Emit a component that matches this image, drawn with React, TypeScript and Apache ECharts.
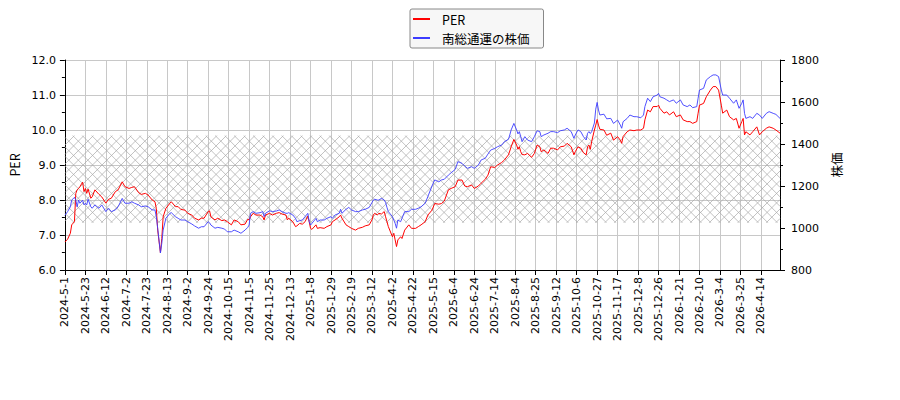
import { useEffect, useRef } from "react";
import * as echarts from "echarts";

// x axis is counted in trading days from 2024-5-1; a label every 15 days
const tickLabels = [
  "2024-5-1", "2024-5-23", "2024-6-12", "2024-7-2", "2024-7-23", "2024-8-13", "2024-9-2",
  "2024-9-24", "2024-10-15", "2024-11-5", "2024-11-25", "2024-12-13", "2025-1-8", "2025-1-29",
  "2025-2-19", "2025-3-12", "2025-4-2", "2025-4-22", "2025-5-15", "2025-6-4", "2025-6-24",
  "2025-7-14", "2025-8-4", "2025-8-25", "2025-9-12", "2025-10-6", "2025-10-27", "2025-11-17",
  "2025-12-8", "2025-12-26", "2026-1-21", "2026-2-10", "2026-3-4", "2026-3-25", "2026-4-14"
];

const dayIndex = [
  0, 2, 4, 5, 7, 8, 9, 10, 11, 13,
  14, 15, 16, 17, 19, 20, 22, 25, 27, 30,
  32, 34, 37, 39, 42, 44, 47, 49, 51, 54,
  56, 59, 61, 64, 66, 67, 68, 70, 71, 72,
  74, 77, 78, 81, 83, 85, 88, 90, 93, 95,
  98, 100, 102, 105, 106, 107, 110, 112, 115, 117,
  119, 122, 124, 127, 129, 132, 134, 135, 136, 138,
  140, 143, 145, 146, 147, 150, 152, 155, 157, 159,
  162, 163, 164, 167, 169, 170, 172, 174, 176, 178,
  179, 180, 181, 184, 185, 187, 190, 192, 195, 196,
  198, 201, 202, 203, 206, 208, 210, 213, 215, 218,
  220, 223, 225, 226, 227, 229, 230, 232, 234, 235,
  236, 237, 240, 241, 242, 243, 244, 246, 247, 249,
  252, 254, 257, 259, 261, 264, 266, 269, 271, 274,
  276, 278, 281, 283, 286, 288, 291, 293, 295, 298,
  300, 303, 305, 308, 310, 312, 315, 317, 320, 322,
  325, 326, 327, 329, 331, 332, 333, 334, 335, 337,
  339, 342, 344, 346, 348, 349, 351, 354, 356, 358,
  361, 363, 366, 368, 371, 373, 374, 376, 378, 380,
  382, 383, 384, 385, 386, 388, 389, 390, 391, 392,
  395, 397, 400, 402, 405, 407, 408, 409, 412, 414,
  417, 419, 422, 424, 425, 427, 429, 431, 434, 435,
  436, 439, 441, 443, 446, 448, 451, 453, 456, 458,
  460, 463, 464, 465, 468, 470, 473, 475, 477, 479,
  481, 482, 485, 487, 490, 492, 494, 496, 497, 498,
  499, 502, 504, 507, 509, 511, 514, 516, 519, 521,
  524
];

const perValues = [
  6.8, 6.88, 7.05, 7.29, 7.38, 8.19, 8.29, 8.33, 8.38, 8.51,
  8.24, 8.33, 8.19, 8.31, 8.05, 8.09, 8.29, 8.16, 8.09, 7.91,
  8.02, 8.05, 8.24, 8.29, 8.52, 8.38, 8.33, 8.36, 8.38, 8.21,
  8.16, 8.19, 8.14, 8.0, 7.95, 7.76, 7.14, 6.49, 6.9, 7.52,
  7.76, 7.91, 7.95, 7.81, 7.81, 7.73, 7.71, 7.62, 7.57, 7.48,
  7.43, 7.48, 7.48, 7.67, 7.69, 7.52, 7.43, 7.48, 7.41, 7.43,
  7.38, 7.29, 7.43, 7.38, 7.29, 7.31, 7.45, 7.43, 7.52, 7.62,
  7.57, 7.57, 7.52, 7.43, 7.57, 7.62, 7.57, 7.62, 7.64, 7.6,
  7.57, 7.43, 7.48, 7.38, 7.24, 7.26, 7.33, 7.31, 7.38, 7.54,
  7.38, 7.19, 7.16, 7.29, 7.19, 7.21, 7.19, 7.24, 7.29, 7.38,
  7.43, 7.52, 7.57, 7.48, 7.29, 7.24, 7.19, 7.14, 7.19, 7.22,
  7.26, 7.29, 7.43, 7.57, 7.62, 7.57, 7.62, 7.6, 7.67, 7.52,
  7.38, 7.24, 6.95, 7.05, 6.86, 6.67, 6.86, 6.95, 6.9, 7.14,
  7.29, 7.19, 7.19, 7.24, 7.29, 7.38, 7.57, 7.71, 7.9, 7.88,
  7.9, 7.97, 8.29, 8.33, 8.38, 8.57, 8.57, 8.4, 8.38, 8.43,
  8.33, 8.4, 8.48, 8.59, 8.71, 8.95, 8.93, 9.0, 9.07, 9.14,
  9.29, 9.4, 9.52, 9.73, 9.57, 9.45, 9.52, 9.38, 9.3, 9.29,
  9.33, 9.22, 9.33, 9.57, 9.52, 9.38, 9.43, 9.33, 9.48, 9.48,
  9.43, 9.52, 9.54, 9.62, 9.52, 9.29, 9.38, 9.52, 9.48, 9.35,
  9.29, 9.52, 9.57, 9.45, 9.67, 10.0, 10.14, 10.3, 10.14, 10.02,
  10.0, 9.85, 9.91, 9.71, 9.81, 9.71, 9.62, 9.81, 9.95, 10.0,
  9.98, 10.0, 10.0, 10.05, 10.29, 10.57, 10.52, 10.67, 10.67, 10.71,
  10.62, 10.48, 10.52, 10.43, 10.52, 10.38, 10.43, 10.29, 10.24, 10.24,
  10.19, 10.24, 10.48, 10.71, 10.76, 10.95, 11.14, 11.24, 11.24, 11.14,
  10.71, 10.48, 10.57, 10.38, 10.29, 10.33, 10.05, 10.24, 10.33, 9.86,
  9.95, 9.86, 9.95, 10.09, 9.86, 9.95, 10.05, 10.09, 10.05, 10.0,
  9.91
];

const priceValues = [
  1060, 1078, 1101, 1133, 1146, 1133, 1101, 1133, 1118, 1133,
  1110, 1118, 1110, 1137, 1101, 1094, 1110, 1094, 1110, 1078,
  1094, 1078, 1086, 1101, 1141, 1118, 1118, 1125, 1118, 1110,
  1101, 1105, 1101, 1086, 1086, 1054, 999, 881, 927, 990,
  1046, 1070, 1073, 1054, 1046, 1038, 1038, 1030, 1019, 1010,
  999, 1006, 1006, 1030, 1025, 1014, 999, 1003, 999, 995,
  982, 982, 990, 982, 975, 990, 1003, 1014, 1070, 1078,
  1070, 1073, 1078, 1054, 1070, 1082, 1078, 1081, 1086, 1078,
  1070, 1070, 1073, 1062, 1046, 1030, 1035, 1038, 1054, 1070,
  1030, 1014, 1022, 1046, 1030, 1038, 1038, 1046, 1054, 1046,
  1062, 1070, 1089, 1070, 1089, 1098, 1086, 1078, 1078, 1086,
  1089, 1098, 1121, 1133, 1137, 1133, 1133, 1141, 1133, 1121,
  1098, 1078, 1054, 1038, 1022, 999, 1038, 1030, 1046, 1078,
  1078, 1089, 1089, 1094, 1101, 1118, 1150, 1200, 1229, 1220,
  1229, 1232, 1252, 1263, 1279, 1316, 1308, 1295, 1284, 1292,
  1284, 1300, 1324, 1332, 1352, 1371, 1379, 1387, 1395, 1411,
  1422, 1443, 1467, 1498, 1467, 1448, 1459, 1435, 1411, 1435,
  1419, 1411, 1435, 1463, 1459, 1435, 1443, 1451, 1459, 1459,
  1454, 1463, 1467, 1475, 1459, 1427, 1443, 1467, 1459, 1435,
  1419, 1451, 1459, 1450, 1459, 1500, 1566, 1598, 1562, 1538,
  1542, 1520, 1522, 1498, 1514, 1490, 1475, 1506, 1522, 1538,
  1530, 1530, 1525, 1538, 1578, 1618, 1602, 1625, 1633, 1641,
  1625, 1618, 1610, 1602, 1610, 1594, 1610, 1586, 1578, 1586,
  1573, 1578, 1618, 1657, 1665, 1705, 1721, 1729, 1729, 1721,
  1657, 1633, 1633, 1618, 1594, 1610, 1570, 1594, 1610, 1546,
  1522, 1530, 1522, 1546, 1538, 1522, 1546, 1554, 1546, 1541,
  1522
];

// PER range shown as the cross-hatched band
const perBand = [7.35, 9.84];
const lastDay = 524;

const jpFont = "'Noto Sans CJK JP', sans-serif";
const tickFont = "'DejaVu Sans', sans-serif";

function hatchLines(x0: number, y0: number, x1: number, y1: number, step: number) {
  const lines = [];
  for (let c = x0 + y0; c <= x1 + y1; c += step) {
    const xa = Math.max(x0, c - y1);
    const xb = Math.min(x1, c - y0);
    if (xb > xa) lines.push({ x1: xa, y1: c - xa, x2: xb, y2: c - xb });
  }
  for (let c = x0 - y1; c <= x1 - y0; c += step) {
    const xa = Math.max(x0, c + y0);
    const xb = Math.min(x1, c + y1);
    if (xb > xa) lines.push({ x1: xa, y1: xa - c, x2: xb, y2: xb - c });
  }
  return lines;
}

function buildOption() {
  const axisColor = "#000";
  const gridColor = "#c8c8c8";
  return {
    animation: false,
    textStyle: { fontFamily: tickFont },
    grid: { left: 62, right: 120, top: 60, bottom: 130 },
    legend: {
      data: ["PER", "南総通運の株価"],
      orient: "vertical",
      left: 410,
      top: 9,
      padding: [3, 14, 3, 3],
      itemGap: 5,
      itemWidth: 17,
      itemHeight: 2,
      icon: "rect",
      backgroundColor: "#f7f7f7",
      borderColor: "#888",
      borderWidth: 1,
      borderRadius: 2,
      textStyle: { fontFamily: jpFont, fontSize: 12.5, color: "#000", lineHeight: 14, padding: [0, 0, 0, 7] }
    },
    xAxis: {
      type: "value",
      min: 0,
      max: lastDay,
      interval: 15,
      axisLine: { onZero: false, lineStyle: { color: axisColor } },
      axisTick: { length: 5, lineStyle: { color: axisColor } },
      axisLabel: {
        rotate: 90,
        margin: 7,
        fontSize: 11,
        color: axisColor,
        showMaxLabel: false,
        formatter: (value: number) => (value % 15 === 0 ? tickLabels[value / 15] ?? "" : "")
      },
      splitLine: { show: true, lineStyle: { color: gridColor } }
    },
    yAxis: [
      {
        type: "value",
        position: "left",
        min: 6,
        max: 12,
        interval: 1,
        name: "PER",
        nameLocation: "middle",
        nameGap: 31,
        nameRotate: 90,
        nameTextStyle: { fontFamily: jpFont, fontSize: 12.5, color: axisColor },
        axisLine: { show: true, lineStyle: { color: axisColor } },
        axisTick: { show: true, length: 5, lineStyle: { color: axisColor } },
        minorTick: { show: true, splitNumber: 2, length: 3, lineStyle: { color: axisColor } },
        axisLabel: { margin: 9, fontSize: 11, color: axisColor, formatter: (v: number) => v.toFixed(1) },
        splitLine: { show: true, lineStyle: { color: gridColor } }
      },
      {
        type: "value",
        position: "right",
        min: 800,
        max: 1800,
        interval: 200,
        name: "株価",
        nameLocation: "middle",
        nameGap: 48,
        nameRotate: 90,
        nameTextStyle: { fontFamily: jpFont, fontSize: 12.5, color: axisColor },
        axisLine: { show: true, lineStyle: { color: axisColor } },
        axisTick: { show: true, length: 5, lineStyle: { color: axisColor } },
        minorTick: { show: true, splitNumber: 2, length: 3, lineStyle: { color: axisColor } },
        axisLabel: { margin: 11, fontSize: 11, color: axisColor, formatter: (v: number) => String(v) },
        splitLine: { show: false }
      }
    ],
    series: [
      {
        type: "custom",
        silent: true,
        z: 1,
        xAxisIndex: 0,
        yAxisIndex: 0,
        data: [[0, perBand[0]]],
        renderItem: (_params: unknown, api: any) => {
          const [xl, yb] = api.coord([0, perBand[0]]);
          const [xr, yt] = api.coord([lastDay, perBand[1]]);
          return {
            type: "group",
            children: hatchLines(xl, yt, xr, yb, 9.5).map((shape) => ({
              type: "line",
              shape,
              style: { stroke: "#a8a8a8", lineWidth: 0.7 }
            }))
          };
        }
      },
      {
        type: "line",
        name: "PER",
        yAxisIndex: 0,
        z: 2,
        data: dayIndex.map((day, i) => [day, perValues[i]]),
        showSymbol: false,
        symbol: "none",
        color: "#ff0000",
        lineStyle: { width: 1, color: "#ff0000" }
      },
      {
        type: "line",
        name: "南総通運の株価",
        yAxisIndex: 1,
        z: 3,
        data: dayIndex.map((day, i) => [day, priceValues[i]]),
        showSymbol: false,
        symbol: "none",
        color: "#3c3cff",
        lineStyle: { width: 0.9, color: "#3c3cff" }
      }
    ]
  };
}

export default function App() {
  const chartRef = useRef<HTMLDivElement | null>(null);

  useEffect(() => {
    document.body.style.margin = "0";
    if (!chartRef.current) {
      return;
    }
    const chart = echarts.init(chartRef.current, undefined, { renderer: "svg" });
    chart.setOption(buildOption() as any);
    return () => {
      chart.dispose();
    };
  }, []);

  return <div ref={chartRef} style={{ width: 900, height: 400 }} />;
}
